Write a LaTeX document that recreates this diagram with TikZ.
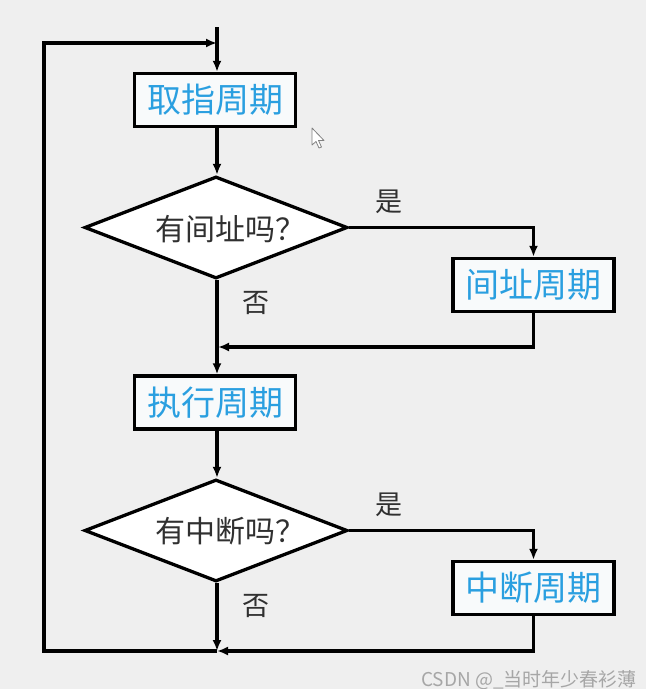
\documentclass[tikz,border=0pt]{standalone}
\usepackage{fontspec}
\newfontfamily\cjk{Noto Sans CJK SC}
\usetikzlibrary{shapes.geometric,arrows.meta}
\definecolor{bg}{HTML}{EFEFEF}
\definecolor{boxfill}{HTML}{F8FAFB}
\definecolor{bluetxt}{HTML}{2A9FE0}
\definecolor{darktxt}{HTML}{303030}
\definecolor{wm}{HTML}{A6A6A6}
\tikzset{
  x=1pt, y=-1pt,
  stepbox/.style={draw=black, line width=3.3pt, fill=boxfill, rectangle,
    minimum width=161pt, minimum height=53pt, inner sep=0pt,
    font=\cjk\fontsize{34}{34}\selectfont, text=bluetxt},
  dia/.style={draw=black, line width=3.3pt, fill=white, diamond,
    minimum width=263pt, minimum height=102pt, inner sep=0pt},
  diatext/.style={font=\cjk\fontsize{30}{30}\selectfont, text=darktxt, inner sep=0pt},
  lbl/.style={font=\cjk\fontsize{27}{27}\selectfont, text=darktxt, inner sep=0pt},
  conn/.style={line width=3.1pt, draw=black},
  arr/.style={conn, -{Latex[length=11pt,width=9pt]}},
}
\begin{document}
\begin{tikzpicture}
\fill[bg] (0,0) rectangle (646,689);
\useasboundingbox (0,0) rectangle (646,689);

% nodes
\node[stepbox] (b1) at (215,100) {取指周期};
\node[dia] (d1) at (216,227.5) {};
\node[diatext] (t1) at (230,229) {有间址吗？};
\node[stepbox] (b2) at (533.5,285) {间址周期};
\node[stepbox] (b3) at (215,402.5) {执行周期};
\node[dia] (d2) at (216,530.5) {};
\node[diatext] (t2) at (230,531) {有中断吗？};
\node[stepbox] (b4) at (533.5,588) {中断周期};

\node[lbl] (y1) at (389,202) {是};
\node[lbl] (n1) at (256,303) {否};
\node[lbl] (y2) at (389,505) {是};
\node[lbl] (n2) at (256,606) {否};

\coordinate (top) at (217,27);
\coordinate (tin) at (217,43);
\coordinate (m1) at (218,347);
\coordinate (j) at (217,651);
\coordinate (jl) at (44,651);
\coordinate (tl) at (44,43);

% connectors
\draw[arr] (top) -- (b1.north -| top);
\draw[arr] (b1.south -| top) -- (d1.north -| top);
\draw[arr] (d1.east) -| (b2.north);
\draw[arr] (b2.south) |- (m1);
\draw[arr] (d1.south -| top) -- (b3.north -| top);
\draw[arr] (b3.south -| top) -- (d2.north -| top);
\draw[arr] (d2.east) -| (b4.north);
\draw[arr] (d2.south -| j) -- (j);
\draw[arr] (b4.south) |- (j);
\draw[arr] (j) -- (jl) -- (tl) -- (tin);

% cursor
\draw[line width=0.8pt, draw=gray, fill=white, line join=round]
  (312,128) -- (312,145) -- (316,141.5) -- (319,148) -- (321.5,147) -- (318.5,140.5) -- (324,140.5) -- cycle;

% watermark
\node[anchor=east, font=\cjk\fontsize{19}{19}\selectfont, text=wm, inner sep=0pt] (wmk) at (637,680) {CSDN @\_当时年少春衫薄};
\end{tikzpicture}
\end{document}
